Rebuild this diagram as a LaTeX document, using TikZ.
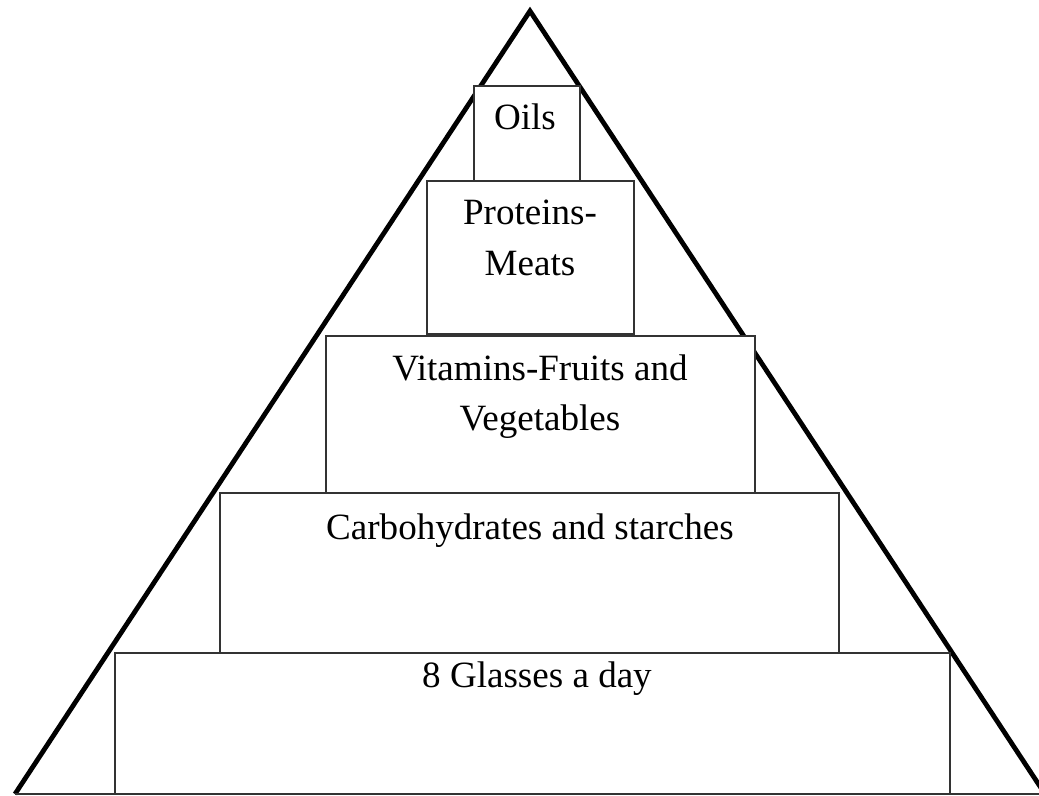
\documentclass[tikz,border=0pt]{standalone}
\usepackage{fontspec}
\setmainfont{Liberation Serif}
\begin{document}
\begin{tikzpicture}[x=0.75pt,y=-0.75pt,
  tri/.style={line width=3.6pt,line join=miter,black},
  base/.style={line width=0.9pt,black!80},
  box/.style={draw=black!80,line width=0.9pt,fill=white,inner sep=0pt,outer sep=0pt},
  lbl/.style={anchor=base,inner sep=0pt,align=center,font=\fontsize{27.8pt}{37.5pt}\selectfont}]
\useasboundingbox (0,0) rectangle (1039,796);
\clip (0,0) rectangle (1039,796);
\fill[white] (0,0) rectangle (1039,796);
\coordinate (apex) at (530,11);
\coordinate (bl) at (15,794);
\coordinate (br) at (1045,794);
\draw[tri] (bl) -- (apex) -- (br);
\draw[base] (bl) -- (br);
% boxes
\node[box,minimum width=0.75*106pt,minimum height=0.75*95pt] (oils) at (527,133.5) {};
\node[box,minimum width=0.75*207pt,minimum height=0.75*153pt] (prot) at (530.5,257.5) {};
\node[box,minimum width=0.75*429pt,minimum height=0.75*158pt] (vit) at (540.5,415) {};
\node[box,minimum width=0.75*619pt,minimum height=0.75*160pt] (carb) at (529.5,573) {};
\node[box,minimum width=0.75*835pt,minimum height=0.75*141pt] (water) at (532.5,723.5) {};
% labels
\node[lbl] (toils) at (525,129) {Oils};
\node[lbl] (tprot1) at (530,224) {Proteins-};
\node[lbl] (tprot2) at (530,275) {Meats};
\node[lbl] (tvit1) at (540,380) {Vitamins-Fruits and};
\node[lbl] (tvit2) at (540,430) {Vegetables};
\node[lbl] (tcarb) at (530,539) {Carbohydrates and starches};
\node[lbl] (twater) at (537,687) {8 Glasses a day};
\end{tikzpicture}
\end{document}
